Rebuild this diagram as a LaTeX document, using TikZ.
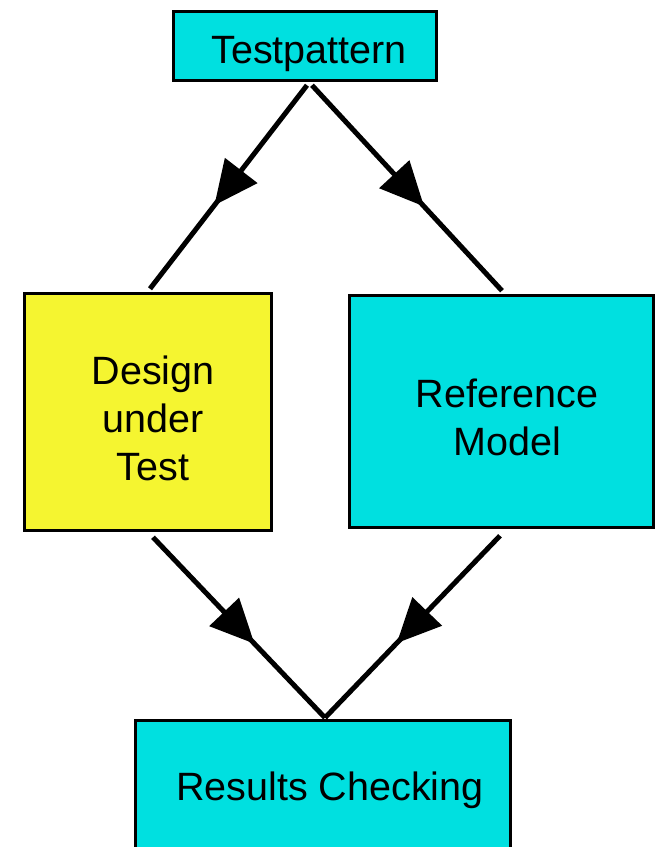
\documentclass[tikz,border=0pt]{standalone}
\usepackage{fontspec}
\setmainfont{Liberation Sans}
\usetikzlibrary{arrows.meta,decorations.markings,calc}
\definecolor{boxcyan}{RGB}{0,224,224}
\definecolor{boxyellow}{RGB}{245,245,48}
\tikzset{
  box/.style={draw=black, line width=3.5pt, inner sep=0pt},
  boxtext/.style={font=\fontsize{39.5pt}{48pt}\selectfont, inner sep=0pt, align=center, anchor=base},
  flow/.style={line width=5pt, postaction={decorate},
    decoration={markings, mark=at position 0.59 with {\arrow{Triangle[length=44pt,width=40pt]}}}},
}
\begin{document}
\begin{tikzpicture}[x=1pt,y=-1pt]
  \clip (0,0) rectangle (658,847);
  \useasboundingbox (0,0) rectangle (658,847);

  % boxes
  \node[box, fill=boxcyan,   minimum width=263pt, minimum height=69pt]  (tp)  at (305,46)    {};
  \node[box, fill=boxyellow, minimum width=247pt, minimum height=237pt] (dut) at (148,412)   {};
  \node[box, fill=boxcyan,   minimum width=304pt, minimum height=232pt] (ref) at (501.5,411.5) {};
  \node[box, fill=boxcyan,   minimum width=375pt, minimum height=200pt] (res) at (323,820.5) {};

  % labels (base anchor sits on the last line's baseline)
  \node[boxtext] (tpt)  at (309,63)  {Testpattern};
  \node[boxtext] (dutt) at (153,480) {Design\\under\\Test};
  \node[boxtext] (reft) at (507,455) {Reference\\Model};
  \node[boxtext] (rest) at (330,800) {Results Checking};

  % data flow
  \draw[flow] ($(tp.south)+(2,3)$)  -- ($(dut.north)+(2,-3)$);
  \draw[flow] ($(tp.south)+(7,3)$)  -- ($(ref.north)+(0.5,-3)$);
  \draw[flow] ($(dut.south)+(5,5)$) -- ($(res.north)+(2,-1)$);
  \draw[flow] ($(ref.south)+(-1.5,6.5)$) -- ($(res.north)+(2,-1)$);
\end{tikzpicture}
\end{document}
